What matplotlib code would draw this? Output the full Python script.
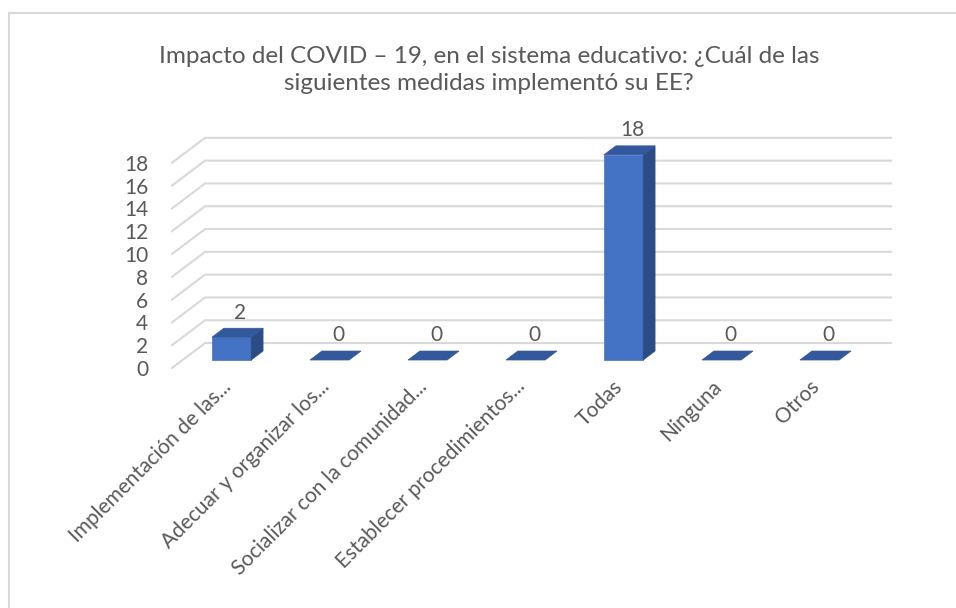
import numpy as np
import matplotlib
matplotlib.use("Agg")
import matplotlib.pyplot as plt
from matplotlib.patches import Polygon
from matplotlib.lines import Line2D

# data
categories = ["Implementación de las...", "Adecuar y organizar los...",
              "Socializar con la comunidad...", "Establecer procedimientos...",
              "Todas", "Ninguna", "Otros"]
values = [2, 0, 0, 0, 18, 0, 0]
y_ticks = [0, 2, 4, 6, 8, 10, 12, 14, 16, 18]
title = "Impacto del COVID – 19, en el sistema educativo: ¿Cuál de las\nsiguientes medidas implementó su EE?"

plt.rcParams['font.family'] = ['Lato', 'DejaVu Sans']
text_col = "#595959"
grid_col = "#d9d9d9"
front_col = "#4472c4"
side_col = "#2c4c85"
top_col = "#34589c"

W, H = 956, 608
fig = plt.figure(figsize=(W / 100, H / 100), dpi=100)
ax = fig.add_axes([172 / W, 240 / H, 686 / W, 228 / H])
n = len(categories)
ax.set_xlim(-0.5, n - 0.5)
ax.set_ylim(0, 20)
for s in ax.spines.values():
    s.set_visible(False)

# oblique depth offset (data units) and bar placement in depth
DX, DY = 0.337, 2.19
d0, d1 = 0.32, 0.68
bw = 0.4

# gridlines: side wall diagonal + back wall horizontal
for t in y_ticks:
    ax.add_line(Line2D([-0.5, -0.5 + DX, n - 0.5 + DX], [t, t + DY, t + DY],
                       color=grid_col, lw=1.5, clip_on=False, zorder=1))

for i, v in enumerate(values):
    xl, xr = i - bw / 2, i + bw / 2
    if v > 0:
        front = [(xl + d0 * DX, d0 * DY), (xr + d0 * DX, d0 * DY),
                 (xr + d0 * DX, v + d0 * DY), (xl + d0 * DX, v + d0 * DY)]
        side = [(xr + d0 * DX, d0 * DY), (xr + d1 * DX, d1 * DY),
                (xr + d1 * DX, v + d1 * DY), (xr + d0 * DX, v + d0 * DY)]
        ax.add_patch(Polygon(front, closed=True, fc=front_col, ec=front_col, lw=0.5, clip_on=False, zorder=3))
        ax.add_patch(Polygon(side, closed=True, fc=side_col, ec=side_col, lw=0.5, clip_on=False, zorder=3))
    top = [(xl + d0 * DX, v + d0 * DY), (xr + d0 * DX, v + d0 * DY),
           (xr + d1 * DX, v + d1 * DY), (xl + d1 * DX, v + d1 * DY)]
    ax.add_patch(Polygon(top, closed=True, fc=top_col, ec=top_col, lw=0.5, clip_on=False, zorder=3))
    ax.annotate(str(v), (i + d1 * DX - 0.03, v + d1 * DY), xytext=(0, 4),
                textcoords="offset points", ha="center", va="bottom",
                fontsize=15, color=text_col, annotation_clip=False)

ax.set_yticks(y_ticks)
ax.set_yticklabels([str(t) for t in y_ticks], fontsize=15, color=text_col)
ax.set_xticks(np.arange(n))
ax.set_xticklabels(categories, fontsize=15, color=text_col, rotation=45,
                   ha="right", rotation_mode="anchor")
ax.tick_params(axis="y", length=0, pad=17)
ax.tick_params(axis="x", length=0, pad=6)

fig.text(489 / W, 1 - 70 / H, title, ha="center", va="center", fontsize=17.5,
         color=text_col, linespacing=1.3)

# chart frame (only top and left edges visible in the crop)
fig.add_artist(Line2D([9 / W, 9 / W, 1], [0, 1 - 13 / H, 1 - 13 / H],
                      transform=fig.transFigure, color=grid_col, lw=1.5))

fig.savefig("out.png", dpi=100, facecolor="white")
